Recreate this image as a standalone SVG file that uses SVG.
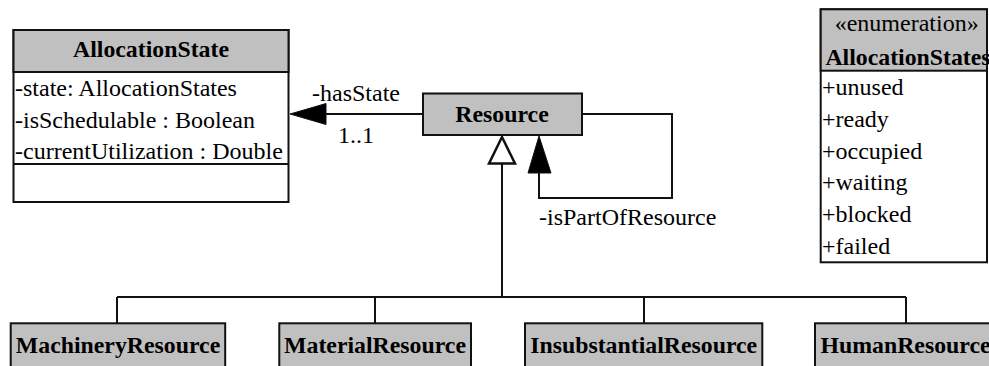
<svg xmlns="http://www.w3.org/2000/svg" width="989" height="366" viewBox="0 0 989 366">
<defs>
<style>
.box{fill:#fff;stroke:#111;stroke-width:2}
.hdr{fill:#c0c0c0;stroke:#111;stroke-width:2}
.ln{fill:none;stroke:#111;stroke-width:2}
.t{font-family:"Liberation Serif","Times New Roman",serif;font-size:24px;fill:#000}
.b{font-family:"Liberation Serif","Times New Roman",serif;font-size:23.8px;font-weight:bold;fill:#000}
.c{text-anchor:middle}
</style>
</defs>
<rect width="989" height="366" fill="#fff"/>
<g id="connectors">
<path class="ln" d="M422,114 H325"/>
<polygon points="290,114 326,103.5 326,124.5" fill="#000" stroke="#111" stroke-width="1"/>
<text class="t" x="312" y="101">-hasState</text>
<text class="t" x="338" y="143">1..1</text>
<path class="ln" d="M582,114 H672 V198 H539 V172"/>
<polygon points="539,136 528,173 551,173" fill="#000" stroke="#111" stroke-width="1"/>
<text class="t" x="539" y="225">-isPartOfResource</text>
<path class="ln" d="M502,163.5 V297 M117,297 H906 M117,297 V323 M375,297 V323 M644,297 V323 M906,297 V323"/>
<polygon points="502,137 489,163.5 515,163.5" fill="#fff" stroke="#111" stroke-width="2.5"/>
</g>
<g id="AllocationState">
<rect class="box" x="13.5" y="30" width="275" height="172"/>
<rect class="hdr" x="13.5" y="30" width="275" height="42"/>
<line class="ln" x1="13.5" y1="164" x2="288.5" y2="164"/>
<text class="b c" x="151" y="57">AllocationState</text>
<text class="t" x="15" y="96">-state: AllocationStates</text>
<text class="t" x="15" y="128">-isSchedulable : Boolean</text>
<text class="t" x="15" y="159">-currentUtilization : Double</text>
</g>
<g id="Resource">
<rect class="hdr" x="423" y="93.5" width="159" height="41.5"/>
<text class="b c" x="502" y="122">Resource</text>
</g>
<g id="AllocationStates">
<rect class="box" x="820.7" y="9.3" width="166.3" height="253"/>
<rect class="hdr" x="820.7" y="9.3" width="166.3" height="61.4"/>
<text class="t c" x="906.7" y="31">«enumeration»</text>
<text class="b c" x="908" y="65">AllocationStates</text>
<text class="t" x="822" y="95">+unused</text>
<text class="t" x="822" y="127">+ready</text>
<text class="t" x="822" y="158.7">+occupied</text>
<text class="t" x="822" y="190.3">+waiting</text>
<text class="t" x="822" y="222">+blocked</text>
<text class="t" x="822" y="253.5">+failed</text>
</g>
<g id="MachineryResource">
<rect class="hdr" x="10.7" y="323.3" width="214.5" height="60"/>
<text class="b c" x="118" y="353">MachineryResource</text>
</g>
<g id="MaterialResource">
<rect class="hdr" x="279.3" y="323.3" width="191.7" height="60"/>
<text class="b c" x="375" y="353">MaterialResource</text>
</g>
<g id="InsubstantialResource">
<rect class="hdr" x="525" y="323.3" width="237.3" height="60"/>
<text class="b c" x="643.7" y="353">InsubstantialResource</text>
</g>
<g id="HumanResource">
<rect class="hdr" x="815" y="323.3" width="181" height="60"/>
<text class="b c" x="905.5" y="353">HumanResource</text>
</g>
</svg>
